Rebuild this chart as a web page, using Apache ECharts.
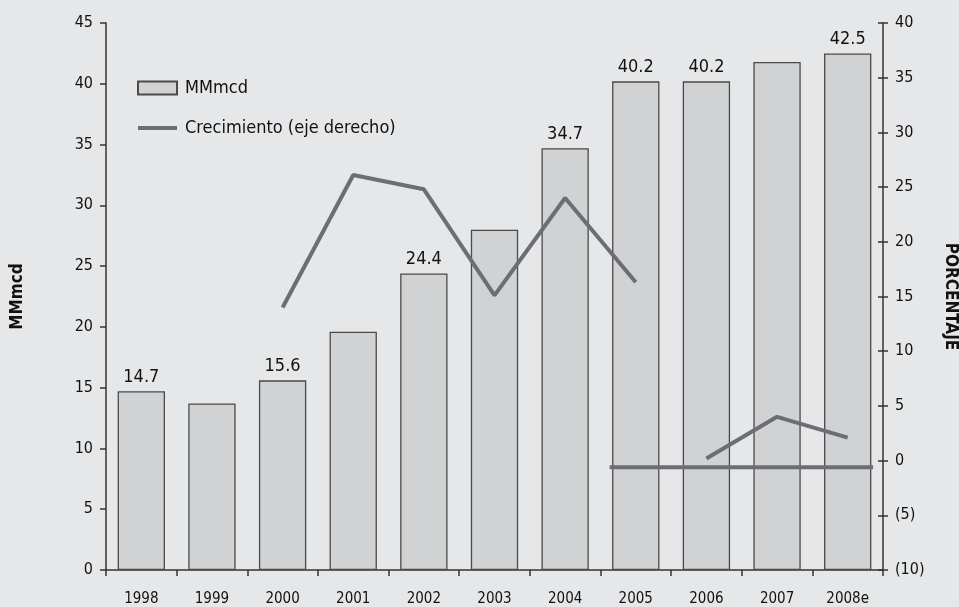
<!DOCTYPE html>
<html>
<head>
<meta charset="utf-8">
<script src="https://cdn.jsdelivr.net/npm/echarts@6/dist/echarts.min.js"></script>
<style>
html,body{margin:0;padding:0;background:#e6e7e9;}
#chart{width:959px;height:607px;}
</style>
</head>
<body>
<div id="chart"></div>
<script>
const categories = ['1998','1999','2000','2001','2002','2003','2004','2005','2006','2007','2008e'];
const mmmcd = [14.7, 13.7, 15.6, 19.6, 24.4, 28.0, 34.7, 40.2, 40.2, 41.8, 42.5];
const mmmcdLabelShown = [true, false, true, false, true, false, true, true, true, false, true];
const crecimientoA = [null, null, 14.0, 26.1, 24.8, 15.1, 24.0, 16.3, null, null, null];
const crecimientoB = [null, null, null, null, null, null, null, null, 0.2, 4.0, 2.1];
const baseLineX = [7.13, 10.86];
const baseLineY = [-0.6, -0.6];
const leftTicks = {min: 0, max: 45, interval: 5};
const rightTicks = {min: -10, max: 40, interval: 5};

const FONT = "'DejaVu Sans Condensed', 'DejaVu Sans', sans-serif";
const chart = echarts.init(document.getElementById('chart'));

const barData = mmmcd.map((v, i) => ({value: v, label: {show: mmmcdLabelShown[i]}}));
const baseLineData = baseLineX.map((x, i) => [x, baseLineY[i]]);

const lineColor = '#6d6e71';

chart.setOption({
  backgroundColor: '#e6e7e9',
  animation: false,
  textStyle: {fontFamily: FONT},
  grid: {left: 106, right: 76, top: 23, bottom: 37, outerBoundsMode: 'none', containLabel: false},
  legend: {
    orient: 'vertical',
    left: 132,
    top: 74,
    itemWidth: 39,
    itemHeight: 13,
    itemGap: 22,
    data: [
      {name: 'MMmcd', icon: 'rect'},
      {name: 'Crecimiento (eje derecho)', icon: 'path://M0,0 M39,13 M0,4.5 H39 V8.5 H0 Z'}
    ],
    textStyle: {fontFamily: FONT, fontSize: 18, color: '#111', padding: [0, 0, 0, 3]},
    selectedMode: false
  },
  xAxis: [{
    type: 'category',
    data: categories,
    axisLine: {lineStyle: {color: '#333', width: 1.5}},
    axisTick: {show: true, length: 6, lineStyle: {color: '#333', width: 1.5}},
    axisLabel: {fontFamily: FONT, fontSize: 15, color: '#111', margin: 22, interval: 0},
    splitLine: {show: false}
  }, {
    type: 'value',
    min: 0,
    max: categories.length,
    show: false
  }],
  yAxis: [{
    type: 'value',
    min: leftTicks.min, max: leftTicks.max, interval: leftTicks.interval,
    position: 'left',
    name: 'MMmcd',
    nameLocation: 'middle',
    nameRotate: 90,
    nameGap: 80,
    nameTextStyle: {fontFamily: FONT, fontSize: 17, fontWeight: 'bold', color: '#111'},
    axisLine: {show: true, lineStyle: {color: '#333', width: 1.5}},
    axisTick: {show: true, length: 6, lineStyle: {color: '#333', width: 1.5}},
    axisLabel: {fontFamily: FONT, fontSize: 16, color: '#111', margin: 13},
    splitLine: {show: false}
  }, {
    type: 'value',
    min: rightTicks.min, max: rightTicks.max, interval: rightTicks.interval,
    position: 'right',
    name: 'PORCENTAJE',
    nameLocation: 'middle',
    nameRotate: -90,
    nameGap: 59,
    nameTextStyle: {fontFamily: FONT, fontSize: 17, fontWeight: 'bold', color: '#111'},
    axisLine: {show: true, lineStyle: {color: '#333', width: 1.5}},
    axisTick: {show: true, length: 5, lineStyle: {color: '#333', width: 1.5}},
    axisLabel: {
      fontFamily: FONT, fontSize: 16, color: '#111', margin: 12,
      formatter: v => v < 0 ? '(' + Math.abs(v) + ')' : String(v)
    },
    splitLine: {show: false}
  }, {
    type: 'value',
    min: rightTicks.min, max: rightTicks.max, interval: rightTicks.interval,
    position: 'right',
    axisLine: {show: false},
    axisTick: {show: true, inside: true, length: 5, lineStyle: {color: '#333', width: 1.5}},
    axisLabel: {show: false},
    splitLine: {show: false}
  }],
  series: [{
    name: 'MMmcd',
    type: 'bar',
    data: barData,
    barWidth: '67%',
    itemStyle: {color: '#d1d2d4', borderColor: '#4a4a4a', borderWidth: 1.3},
    label: {position: 'top', distance: 5, fontFamily: FONT, fontSize: 18, color: '#111'},
    z: 2
  }, {
    name: 'Crecimiento (eje derecho)',
    type: 'line',
    yAxisIndex: 1,
    data: crecimientoA,
    symbol: 'none',
    connectNulls: false,
    lineStyle: {color: lineColor, width: 4},
    itemStyle: {color: lineColor},
    z: 3
  }, {
    name: 'Crecimiento (eje derecho)',
    type: 'line',
    yAxisIndex: 1,
    data: crecimientoB,
    symbol: 'none',
    connectNulls: false,
    lineStyle: {color: lineColor, width: 4},
    itemStyle: {color: lineColor},
    z: 3
  }, {
    name: 'base',
    type: 'line',
    xAxisIndex: 1,
    yAxisIndex: 1,
    data: baseLineData,
    symbol: 'none',
    lineStyle: {color: lineColor, width: 4},
    z: 3
  }]
});
</script>
</body>
</html>
